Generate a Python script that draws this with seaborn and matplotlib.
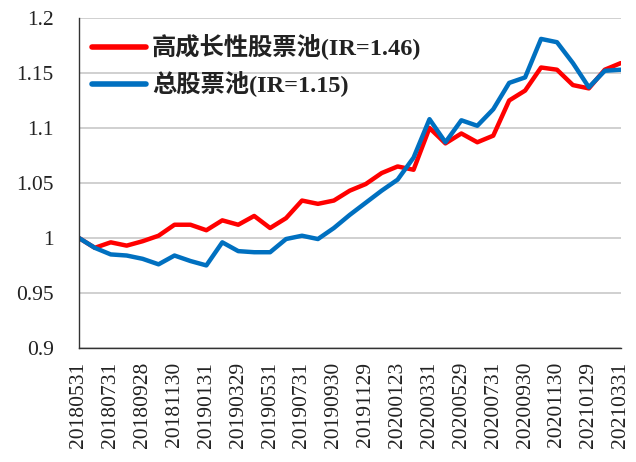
import numpy as np
import pandas as pd
import matplotlib
matplotlib.use("Agg")
import matplotlib.pyplot as plt
import seaborn as sns

dates = [
    "20180531", "20180629", "20180731", "20180831", "20180928", "20181031",
    "20181130", "20181228", "20190131", "20190228", "20190329", "20190430",
    "20190531", "20190628", "20190731", "20190830", "20190930", "20191031",
    "20191129", "20191231", "20200123", "20200228", "20200331", "20200430",
    "20200529", "20200630", "20200731", "20200831", "20200930", "20201030",
    "20201130", "20201231", "20210129", "20210226", "20210331",
]
growth_pool = [
    1.000, 0.991, 0.996, 0.993, 0.997, 1.002, 1.012, 1.012, 1.007, 1.016,
    1.012, 1.020, 1.009, 1.018, 1.034, 1.031, 1.034, 1.043, 1.049, 1.059,
    1.065, 1.062, 1.100, 1.086, 1.095, 1.087, 1.093, 1.125, 1.134, 1.155,
    1.153, 1.139, 1.136, 1.153, 1.159,
]
total_pool = [
    1.000, 0.991, 0.985, 0.984, 0.981, 0.976, 0.984, 0.979, 0.975, 0.996,
    0.988, 0.987, 0.987, 0.999, 1.002, 0.999, 1.009, 1.021, 1.032, 1.043,
    1.053, 1.073, 1.108, 1.087, 1.107, 1.102, 1.117, 1.141, 1.146, 1.181,
    1.178, 1.159, 1.137, 1.152, 1.153,
]
labels = ["高成长性股票池(IR=1.46)", "总股票池(IR=1.15)"]
yticks = [0.9, 0.95, 1.0, 1.05, 1.1, 1.15, 1.2]
ytick_labels = ["0.9", "0.95", "1", "1.05", "1.1", "1.15", "1.2"]

sns.set_style("white")
plt.rcParams["font.family"] = ["Liberation Serif", "Noto Sans CJK SC"]

df = pd.DataFrame({
    "idx": np.arange(len(dates)),
    labels[0]: growth_pool,
    labels[1]: total_pool,
}).melt(id_vars="idx", var_name="series", value_name="value")

fig = plt.figure(figsize=(6.36, 4.62), dpi=100)
ax = fig.add_axes([0.124, 0.247, 0.852, 0.714])

sns.lineplot(data=df, x="idx", y="value", hue="series",
             palette=["#FF0000", "#0070C0"], linewidth=3.2, ax=ax)

ax.set_xlim(0, len(dates) - 1)
ax.set_ylim(0.9, 1.2)
ax.set_yticks(yticks)
ax.set_yticklabels(ytick_labels, fontsize=15.5, color="#222222")
ax.set_xticks(np.arange(len(dates)))
ax.set_xticklabels([d if i % 2 == 0 else "" for i, d in enumerate(dates)],
                   rotation=90, fontsize=15.5, color="#222222")
ax.set_xlabel("")
ax.set_ylabel("")

ax.grid(axis="y", color="#c8c8c8", linewidth=1.2)
ax.set_axisbelow(True)
for s in ["top", "right"]:
    ax.spines[s].set_visible(False)
for s in ["left", "bottom"]:
    ax.spines[s].set_color("#333333")
    ax.spines[s].set_linewidth(1.0)
ax.tick_params(axis="x", direction="in", length=5, width=1, color="#333333", pad=10)
ax.tick_params(axis="y", direction="in", length=5, width=1, color="#333333", pad=18)

leg = ax.legend(loc="upper left", frameon=False, handlelength=2.2,
                labelspacing=0.45, borderaxespad=0.0, handletextpad=0.25,
                borderpad=0.0, bbox_to_anchor=(0.025, 0.95),
                prop={"size": 17.5, "weight": "bold"})
for t in leg.get_texts():
    t.set_color("#222222")
for line in leg.get_lines():
    line.set_linewidth(4)

fig.savefig("out.png", dpi=100)
